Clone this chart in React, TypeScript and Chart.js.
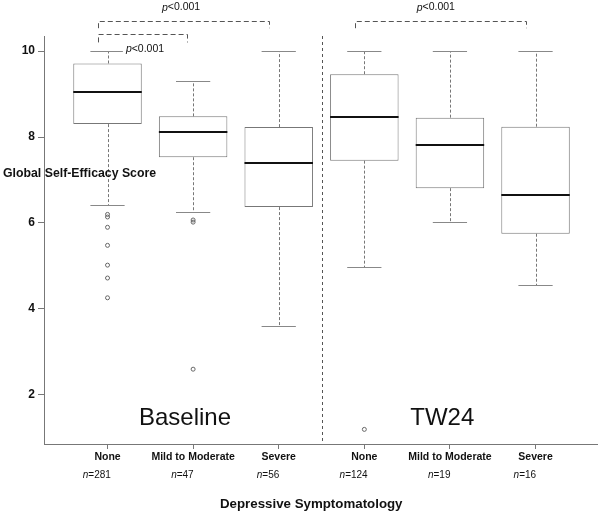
import React, { useEffect, useRef } from 'react';
import { Chart, registerables } from 'chart.js';

Chart.register(...registerables);

const categories = ['None', 'Mild to Moderate', 'Severe', 'None', 'Mild to Moderate', 'Severe'];
const positions = [1, 2, 3, 4, 5, 6];
const nCounts = [281, 47, 56, 124, 19, 16];
const q1 = [8.3, 7.53, 6.37, 7.45, 6.81, 5.75];
const median = [9.05, 8.12, 7.39, 8.47, 7.82, 6.66];
const q3 = [9.71, 8.48, 8.23, 9.46, 8.45, 8.24];
const whiskerLow = [6.42, 6.25, 3.6, 4.97, 6.02, 4.55];
const whiskerHigh = [10, 9.3, 10, 10, 10, 10];
const outliers = [
  [6.2, 6.14, 5.9, 5.48, 5.02, 4.72, 4.26],
  [6.07, 6.02, 2.6],
  [],
  [1.2],
  [],
  [],
];
const yTicks = [2, 4, 6, 8, 10];
const groupLabels = ['Baseline', 'TW24'];
const groupLabelX = [1.905, 4.91];
const groupLabelY = [1.465, 1.465];
const separatorX = [3.5];
const bracketFrom = [0.89, 0.89, 3.89];
const bracketTo = [2.89, 1.93, 5.89];
const bracketTop = [10.705, 10.395, 10.7];
const bracketFoot = [10.53, 10.2, 10.53];
const pLabels = ['<0.001', '<0.001', '<0.001'];
const pLabelX = [1.859, 1.438, 4.835];
const pLabelY = [11.01, 10.04, 11.01];
const yTitle = 'Global Self-Efficacy Score';
const xTitle = 'Depressive Symptomatology';
const xTitleX = [3.38];

const FONT = '"Liberation Sans", Arial, Helvetica, sans-serif';
const BOX_W = 0.8;
const CAP_W = 0.4;
const GRAY = '#777';

function drawMixed(ctx: CanvasRenderingContext2D, italicPart: string, rest: string, cx: number, cy: number, size: number, bg: boolean) {
  ctx.save();
  ctx.textBaseline = 'middle';
  ctx.textAlign = 'left';
  ctx.font = `italic ${size}px ${FONT}`;
  const w1 = ctx.measureText(italicPart).width;
  ctx.font = `${size}px ${FONT}`;
  const w2 = ctx.measureText(rest).width;
  const x0 = cx - (w1 + w2) / 2;
  if (bg) {
    ctx.fillStyle = '#fff';
    ctx.fillRect(x0 - 3, cy - size * 0.7, w1 + w2 + 6, size * 1.4);
  }
  ctx.fillStyle = '#111';
  ctx.font = `italic ${size}px ${FONT}`;
  ctx.fillText(italicPart, x0, cy);
  ctx.font = `${size}px ${FONT}`;
  ctx.fillText(rest, x0 + w1, cy);
  ctx.restore();
}

const boxPlugin = {
  id: 'boxExtras',
  beforeDatasetsDraw(chart: any) {
    const { ctx, scales, chartArea } = chart;
    const xs = scales.x;
    const ys = scales.y;
    ctx.save();
    // separator
    ctx.strokeStyle = '#555';
    ctx.lineWidth = 1;
    ctx.setLineDash([3, 3]);
    separatorX.forEach((v) => {
      const px = Math.round(xs.getPixelForValue(v)) + 0.5;
      ctx.beginPath();
      ctx.moveTo(px, chartArea.top);
      ctx.lineTo(px, chartArea.bottom);
      ctx.stroke();
    });
    // whiskers
    ctx.strokeStyle = GRAY;
    ctx.setLineDash([3, 2]);
    positions.forEach((p, i) => {
      const px = Math.round(xs.getPixelForValue(p)) + 0.5;
      ctx.beginPath();
      ctx.moveTo(px, ys.getPixelForValue(q3[i]));
      ctx.lineTo(px, ys.getPixelForValue(whiskerHigh[i]));
      ctx.moveTo(px, ys.getPixelForValue(q1[i]));
      ctx.lineTo(px, ys.getPixelForValue(whiskerLow[i]));
      ctx.stroke();
    });
    // caps
    ctx.setLineDash([]);
    ctx.strokeStyle = '#888';
    positions.forEach((p, i) => {
      const l = xs.getPixelForValue(p - CAP_W / 2);
      const r = xs.getPixelForValue(p + CAP_W / 2);
      [whiskerHigh[i], whiskerLow[i]].forEach((v) => {
        const py = Math.round(ys.getPixelForValue(v)) + 0.5;
        ctx.beginPath();
        ctx.moveTo(l, py);
        ctx.lineTo(r, py);
        ctx.stroke();
      });
    });
    ctx.restore();
  },
  afterDatasetsDraw(chart: any) {
    const { ctx, scales } = chart;
    const xs = scales.x;
    const ys = scales.y;
    ctx.save();
    ctx.strokeStyle = '#111';
    ctx.lineWidth = 2;
    positions.forEach((p, i) => {
      const l = xs.getPixelForValue(p - BOX_W / 2);
      const r = xs.getPixelForValue(p + BOX_W / 2);
      const py = Math.round(ys.getPixelForValue(median[i]));
      ctx.beginPath();
      ctx.moveTo(l, py);
      ctx.lineTo(r, py);
      ctx.stroke();
    });
    ctx.restore();
  },
  afterDraw(chart: any) {
    const { ctx, scales, chartArea } = chart;
    const xs = scales.x;
    const ys = scales.y;
    ctx.save();
    // brackets
    ctx.strokeStyle = '#555';
    ctx.lineWidth = 1;
    ctx.setLineDash([5, 3]);
    bracketFrom.forEach((f, i) => {
      const x1 = Math.round(xs.getPixelForValue(f)) + 0.5;
      const x2 = Math.round(xs.getPixelForValue(bracketTo[i])) + 0.5;
      const yt = Math.round(ys.getPixelForValue(bracketTop[i])) + 0.5;
      const yf = ys.getPixelForValue(bracketFoot[i]);
      ctx.beginPath();
      ctx.moveTo(x1, yf);
      ctx.lineTo(x1, yt);
      ctx.lineTo(x2, yt);
      ctx.lineTo(x2, yf);
      ctx.stroke();
    });
    ctx.setLineDash([]);
    // p labels
    pLabels.forEach((t, i) => {
      drawMixed(ctx, 'p', t, xs.getPixelForValue(pLabelX[i]), ys.getPixelForValue(pLabelY[i]), 10.5, true);
    });
    // group labels
    ctx.fillStyle = '#111';
    ctx.textAlign = 'center';
    ctx.textBaseline = 'middle';
    ctx.font = `24px ${FONT}`;
    groupLabels.forEach((t, i) => {
      ctx.fillText(t, xs.getPixelForValue(groupLabelX[i]), ys.getPixelForValue(groupLabelY[i]));
    });
    // n labels
    positions.forEach((p, i) => {
      drawMixed(ctx, 'n', '=' + nCounts[i], xs.getPixelForValue(p - 0.125), chartArea.bottom + 31, 10, false);
    });
    // x title
    ctx.fillStyle = '#111';
    ctx.textAlign = 'center';
    ctx.textBaseline = 'middle';
    ctx.font = `bold 13.3px ${FONT}`;
    ctx.fillText(xTitle, xs.getPixelForValue(xTitleX[0]), chartArea.bottom + 60);
    // y title
    ctx.textAlign = 'left';
    ctx.font = `bold 12.3px ${FONT}`;
    ctx.fillText(yTitle, 3, ys.getPixelForValue(7.14));
    ctx.restore();
  },
};

export default function App() {
  const ref = useRef<HTMLCanvasElement | null>(null);
  useEffect(() => {
    if (!ref.current) return;
    const boxData = positions.map((p, i) => ({ x: p, y: [q1[i], q3[i]] }));
    const outlierData: { x: number; y: number }[] = [];
    outliers.forEach((arr, i) => arr.forEach((v) => outlierData.push({ x: positions[i], y: v })));
    const chart = new Chart(ref.current, {
      type: 'bar',
      data: {
        datasets: [
          {
            type: 'bar',
            data: boxData as any,
            backgroundColor: '#fff',
            borderColor: GRAY,
            borderWidth: 1,
            borderSkipped: false,
            categoryPercentage: 1,
            barPercentage: BOX_W,
          } as any,
          {
            type: 'scatter',
            data: outlierData,
            pointRadius: 2,
            pointBorderWidth: 1,
            pointBackgroundColor: 'rgba(255,255,255,0)',
            pointBorderColor: '#666',
            pointStyle: 'circle',
          } as any,
        ],
      },
      options: {
        animation: false,
        responsive: false,
        events: [],
        layout: { padding: { top: 36, right: 6, left: 0, bottom: 0 } },
        plugins: { legend: { display: false }, tooltip: { enabled: false } },
        scales: {
          x: {
            type: 'linear',
            min: 0.258,
            max: 6.718,
            offset: false,
            afterBuildTicks: (scale: any) => {
              scale.ticks = positions.map((v) => ({ value: v }));
            },
            afterFit: (scale: any) => {
              scale.height = 71;
            },
            ticks: {
              autoSkip: false,
              maxRotation: 0,
              padding: 2,
              color: '#111',
              font: { family: FONT, size: 10.5, weight: 'bold' },
              callback: (v: any) => categories[positions.indexOf(Number(v))] ?? '',
            },
            grid: { drawOnChartArea: false, drawTicks: true, tickLength: 5, color: GRAY, offset: false },
            border: { display: true, color: GRAY },
          },
          y: {
            type: 'linear',
            min: 0.86,
            max: 10.349,
            afterBuildTicks: (scale: any) => {
              scale.ticks = yTicks.map((v) => ({ value: v }));
            },
            afterFit: (scale: any) => {
              scale.width = 44;
            },
            ticks: {
              padding: 3,
              color: '#111',
              font: { family: FONT, size: 12, weight: 'bold' },
            },
            grid: { drawOnChartArea: false, drawTicks: true, tickLength: 6, color: GRAY },
            border: { display: true, color: GRAY },
          },
        },
      } as any,
      plugins: [boxPlugin],
    });
    return () => chart.destroy();
  }, []);
  return (
    <div style={{ position: 'absolute', left: 0, top: 0, width: 603, height: 515, background: '#fff' }}>
      <canvas ref={ref} width={603} height={515} style={{ display: 'block', width: 603, height: 515 }} />
    </div>
  );
}
